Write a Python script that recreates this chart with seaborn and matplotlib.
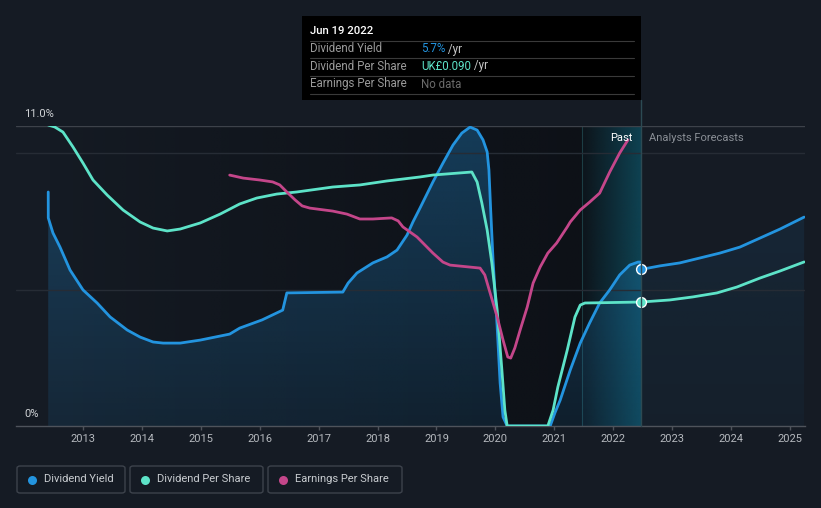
import numpy as np
import pandas as pd
import matplotlib
matplotlib.use("Agg")
import matplotlib.pyplot as plt
import seaborn as sns
from matplotlib.patches import Rectangle, FancyBboxPatch, Polygon
from matplotlib.colors import to_rgb

# ---------------- data ----------------
yield_years = [2012.41, 2012.411, 2012.49, 2012.61, 2012.78, 2013.00, 2013.24, 2013.46, 2013.75,
               2013.97, 2014.19, 2014.36, 2014.65, 2014.99, 2015.49, 2015.66, 2016.04, 2016.39,
               2016.46, 2017.41, 2017.50, 2017.65, 2017.92, 2018.16, 2018.33, 2018.50, 2018.60,
               2018.72, 2018.94, 2019.11, 2019.28, 2019.43, 2019.57, 2019.69, 2019.79, 2019.86,
               2019.89, 2019.92, 2019.96, 2020.03, 2020.08, 2020.13, 2020.20, 2020.93, 2021.01,
               2021.10, 2021.27, 2021.44, 2021.60, 2021.77, 2021.94, 2022.11, 2022.28, 2022.42,
               2022.465, 2022.47]
yield_pct = [8.58, 7.63, 7.08, 6.56, 5.72, 4.99, 4.51, 4.00, 3.52,
             3.26, 3.08, 3.04, 3.04, 3.15, 3.37, 3.59, 3.89, 4.25,
             4.88, 4.91, 5.24, 5.61, 5.98, 6.20, 6.45, 7.00, 7.48,
             7.99, 8.95, 9.64, 10.30, 10.74, 10.96, 10.85, 10.49, 10.05,
             9.39, 7.92, 6.09, 3.63, 1.58, 0.33, 0.0, 0.0, 0.48,
             0.95, 2.05, 3.04, 3.78, 4.51, 4.99, 5.54, 5.90, 6.01,
             6.01, 5.74]
yield_fc_years = [2022.47, 2022.79, 2023.13, 2023.47, 2023.81, 2024.15, 2024.49, 2024.83, 2025.24]
yield_fc_pct = [5.74, 5.87, 5.98, 6.16, 6.34, 6.56, 6.89, 7.22, 7.66]

dps_years = [2012.41, 2012.52, 2012.66, 2012.83, 2013.00, 2013.17, 2013.41, 2013.68, 2013.97,
             2014.19, 2014.43, 2014.65, 2014.99, 2015.33, 2015.66, 2015.95, 2016.29, 2016.63,
             2017.24, 2017.70, 2018.16, 2018.72, 2018.94, 2019.60, 2019.69, 2019.77, 2019.86,
             2019.94, 2020.03, 2020.11, 2020.16, 2020.20, 2020.89, 2020.98, 2021.06, 2021.22,
             2021.35, 2021.44, 2021.52, 2022.47]
dps_gbp = [0.2185, 0.2171, 0.2134, 0.2026, 0.1909, 0.1786, 0.1677, 0.1568, 0.1481,
           0.1437, 0.1416, 0.1430, 0.1474, 0.1539, 0.1612, 0.1655, 0.1684, 0.1699,
           0.1735, 0.1750, 0.1779, 0.1808, 0.1822, 0.1844, 0.1771, 0.1619, 0.1423,
           0.1183, 0.0842, 0.0407, 0.0116, 0.0, 0.0, 0.0116, 0.0283, 0.0552,
           0.0791, 0.0878, 0.0893, 0.0900]
dps_fc_years = [2022.47, 2022.96, 2023.35, 2023.76, 2024.10, 2024.49, 2024.83, 2025.24]
dps_fc_gbp = [0.0900, 0.0915, 0.0937, 0.0966, 0.1009, 0.1074, 0.1125, 0.1191]

eps_years = [2015.49, 2015.72, 2016.00, 2016.22, 2016.34, 2016.46, 2016.60, 2016.72, 2016.85,
             2017.24, 2017.48, 2017.70, 2017.92, 2018.24, 2018.35, 2018.43, 2018.67, 2018.94,
             2019.11, 2019.23, 2019.74, 2019.82, 2019.91, 2020.03, 2020.13, 2020.21, 2020.26,
             2020.33, 2020.42, 2020.54, 2020.64, 2020.76, 2020.89, 2021.04, 2021.22, 2021.27,
             2021.44, 2021.60, 2021.77, 2021.94, 2022.11, 2022.25]
eps_index = [9.20, 9.09, 9.02, 8.95, 8.84, 8.58, 8.29, 8.07, 7.99,
             7.88, 7.77, 7.59, 7.59, 7.63, 7.52, 7.30, 6.93, 6.34,
             6.01, 5.90, 5.79, 5.54, 4.88, 4.00, 3.15, 2.53, 2.49,
             2.86, 3.52, 4.36, 5.24, 5.83, 6.34, 6.71, 7.30, 7.48,
             7.92, 8.21, 8.54, 9.31, 10.01, 10.49]

x_ticks = list(range(2013, 2026))
past_start, past_end, band_start = 2012.41, 2022.47, 2021.47

# ---------------- style ----------------
BG = '#151b24'
BLUE = '#2394df'
TEAL = '#5de3c8'
MAG = '#c4468a'
W, H = 821, 508

sns.set_theme(style="dark")
plt.rcParams['font.family'] = ['Roboto', 'DejaVu Sans']

fig = plt.figure(figsize=(W / 100, H / 100), dpi=100, facecolor=BG)

def fx(x):
    return x / W

def fy(y):
    return 1 - y / H

ax = fig.add_axes([16 / W, 1 - 426 / H, 789 / W, 300 / H])
ax.set_facecolor(BG)
XL = (2011.863, 2025.255)
YL = (0, 11)

# past region darkening gradient
grad = np.zeros((2, 256, 4))
grad[..., :3] = to_rgb('#080a0e')
grad[..., 3] = np.linspace(0.0, 0.55, 256) ** 0.8
ax.imshow(grad, extent=[past_start, past_end, 0, 11], aspect='auto', zorder=0.2,
          interpolation='bilinear')

# highlight band
band = np.zeros((2, 256, 4))
band[..., :3] = to_rgb('#0f5366')
band[..., 3] = np.linspace(0.05, 0.75, 256)
ax.imshow(band, extent=[band_start, past_end, 0, 11], aspect='auto', zorder=0.3,
          interpolation='bilinear')
ax.axvline(band_start, color='#1c3d44', lw=0.8, zorder=0.35)

# blue fill gradients (past and forecast)
def grad_fill(xs, ys, a_top, a_bot, z):
    verts = [(xs[0], 0)] + list(zip(xs, ys)) + [(xs[-1], 0)]
    poly = Polygon(verts, closed=True, facecolor='none', edgecolor='none')
    ax.add_patch(poly)
    g = np.zeros((256, 2, 4))
    g[..., :3] = to_rgb(BLUE)
    g[..., 3] = np.linspace(a_top, a_bot, 256)[:, None]
    im = ax.imshow(g, extent=[xs[0], xs[-1], 0, 11], aspect='auto', zorder=z,
                   interpolation='bilinear')
    im.set_clip_path(poly)

grad_fill(yield_years, yield_pct, 0.32, 0.11, 0.4)
grad_fill(yield_fc_years, yield_fc_pct, 0.12, 0.04, 0.4)

# grid lines
ax.axhline(11, color='#3d424a', lw=1, zorder=0.6)
ax.axhline(10, color='#262c35', lw=1, zorder=0.6)
ax.axhline(5, color='#262c35', lw=1, zorder=0.6)

LK = dict(lw=2.0, estimator=None, sort=False, solid_joinstyle='round',
          solid_capstyle='round')

# dividend yield
sns.lineplot(x=yield_years, y=yield_pct, ax=ax, color=BLUE, zorder=3, **LK)
sns.lineplot(x=yield_fc_years, y=yield_fc_pct, ax=ax, color=BLUE, zorder=3, **LK)
ax.set_xlim(*XL)
ax.set_ylim(*YL)

# DPS twin axis
ax2 = ax.twinx()
ax2.set_ylim(0, 0.2178)
sns.lineplot(x=dps_years, y=dps_gbp, ax=ax2, color=TEAL, zorder=3, **LK)
sns.lineplot(x=dps_fc_years, y=dps_fc_gbp, ax=ax2, color=TEAL, zorder=3, **LK)

# EPS twin axis (relative scale)
ax3 = ax.twinx()
ax3.set_ylim(*YL)
sns.lineplot(x=eps_years, y=eps_index, ax=ax3, color=MAG, zorder=3, **LK)

# markers
ax3.scatter([yield_fc_years[0]], [yield_fc_pct[0]], s=50, color=BLUE, edgecolor='white',
            lw=1, zorder=6, transform=ax.transData, clip_on=False)
ax3.scatter([dps_fc_years[0]], [dps_fc_gbp[0]], s=50, color=TEAL, edgecolor='white',
            lw=1, zorder=6, transform=ax2.transData, clip_on=False)

for a in (ax, ax2, ax3):
    a.grid(False)
    for s in a.spines.values():
        s.set_visible(False)
    a.set_ylabel('')
    a.set_xlabel('')
    a.set_yticks([])
    a.tick_params(left=False, right=False, labelleft=False, labelright=False)

ax.set_xlim(*XL)
ax.spines['bottom'].set_visible(True)
ax.spines['bottom'].set_color('#4e535b')
ax.spines['bottom'].set_linewidth(1)
ax.set_xticks(x_ticks)
ax.set_xticklabels([str(t) for t in x_ticks])
ax.tick_params(axis='x', colors='#4e535b', labelcolor='#b5b9be', length=3, width=1,
               pad=3, labelsize=8, bottom=True, labelbottom=True)
for a in (ax2, ax3):
    a.tick_params(axis='x', bottom=False, top=False, labelbottom=False, labeltop=False)

# y labels
fig.text(fx(24), fy(114), '11.0%', color='#d0d3d6', fontsize=8, va='center', ha='left')
fig.text(fx(24), fy(414), '0%', color='#d0d3d6', fontsize=8, va='center', ha='left')

# vertical current line
fig.add_artist(plt.Line2D([fx(641), fx(641)], [fy(100), fy(426)], color='#2c4a53', lw=1))

# Past / forecasts labels
fig.text(fx(632), fy(138), 'Past', color='#ffffff', fontsize=8, va='center', ha='right')
fig.text(fx(649), fy(138), 'Analysts Forecasts', color='#8a8f96', fontsize=8,
         va='center', ha='left')

# tooltip
fig.add_artist(Rectangle((fx(302), fy(100)), (641 - 302) / W, 84 / H,
                         transform=fig.transFigure, facecolor='#000000', edgecolor='none'))
fig.text(fx(310), fy(31), 'Jun 19 2022', color='#ffffff', fontsize=8.2, va='center',
         ha='left', fontweight='medium')
for yy in (41, 58, 76, 94):
    fig.add_artist(plt.Line2D([fx(310), fx(634)], [fy(yy), fy(yy)], color='#3a3a3a', lw=0.8))
rows = [('Dividend Yield', '5.7%', BLUE, ' /yr'),
        ('Dividend Per Share', 'UK£0.090', TEAL, ' /yr'),
        ('Earnings Per Share', 'No data', '#6b6b6b', '')]
fig.canvas.draw()
for (lab, val, col, suf), yy in zip(rows, (49, 66, 84)):
    fig.text(fx(310), fy(yy), lab, color='#9a9a9a', fontsize=8.3, va='center', ha='left')
    t = fig.text(fx(421), fy(yy), val, color=col, fontsize=8.3, va='center', ha='left')
    if suf:
        bb = t.get_window_extent(renderer=fig.canvas.get_renderer())
        fig.text(bb.x1 / W, fy(yy), suf, color='#c8c8c8', fontsize=8.3, va='center', ha='left')

# legend boxes
legend = [('Dividend Yield', BLUE, 17, 125),
          ('Dividend Per Share', TEAL, 130, 263),
          ('Earnings Per Share', MAG, 268, 402)]
for lab, col, x0, x1 in legend:
    fig.add_artist(FancyBboxPatch((fx(x0), fy(493)), (x1 - x0) / W, 27 / H,
                                  boxstyle='round,pad=0,rounding_size=0.004',
                                  transform=fig.transFigure, facecolor='none',
                                  edgecolor='#3d434c', lw=1))
    fig.add_artist(plt.Line2D([fx(x0 + 15)], [fy(479.5)], marker='o', markersize=6.5,
                              color=col, markeredgewidth=0, linestyle='none'))
    fig.text(fx(x0 + 27), fy(479.5), lab, color='#c8ccd0', fontsize=8, va='center', ha='left')

fig.savefig('out.png', dpi=100, facecolor=BG)
